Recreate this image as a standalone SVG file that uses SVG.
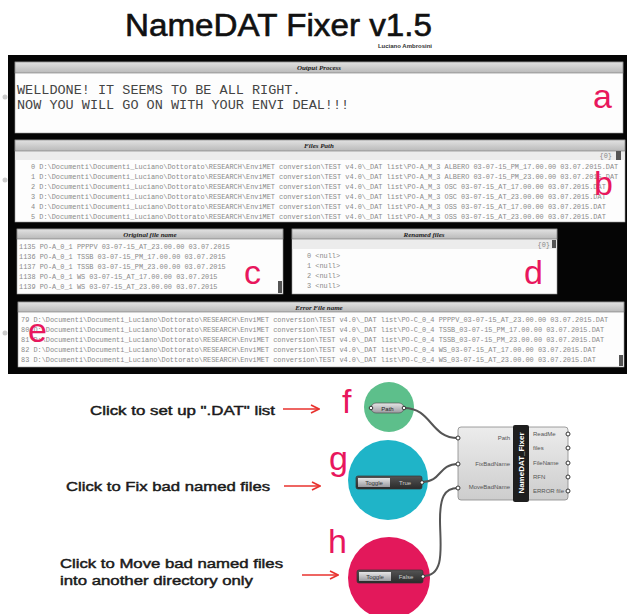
<svg xmlns="http://www.w3.org/2000/svg" width="630" height="614" viewBox="0 0 630 614">
<defs>
<linearGradient id="hdr" x1="0" y1="0" x2="0" y2="1"><stop offset="0" stop-color="#e2e2e2"/><stop offset="1" stop-color="#b9b9b9"/></linearGradient>
<linearGradient id="body" x1="0" y1="0" x2="0" y2="1"><stop offset="0" stop-color="#ececec"/><stop offset="1" stop-color="#cdcdcd"/></linearGradient>
<linearGradient id="pill" x1="0" y1="0" x2="0" y2="1"><stop offset="0" stop-color="#e6e6e6"/><stop offset="1" stop-color="#9a9aa0"/></linearGradient>
<linearGradient id="dark" x1="0" y1="0" x2="0" y2="1"><stop offset="0" stop-color="#555"/><stop offset="1" stop-color="#2a2a2a"/></linearGradient>
<marker id="arr" markerWidth="10" markerHeight="10" refX="9" refY="5" orient="auto" markerUnits="userSpaceOnUse"><path d="M1,1 L9,5 L1,9" fill="none" stroke="#e8322e" stroke-width="1.6"/></marker>
</defs>
<style>
.hd{font-family:"Liberation Serif",serif;font-style:italic;font-weight:bold;font-size:7px;fill:#222;text-anchor:middle}
.mono{font-family:"Liberation Mono",monospace;font-size:6.9px;fill:#8a8a8a}
.out{font-family:"Liberation Mono",monospace;font-size:13.5px;fill:#444}
.pl{font-family:"Liberation Sans",Arial,sans-serif;font-size:34px;fill:#e8175d}
.lab{font-family:"Liberation Sans",Arial,sans-serif;font-size:13px;fill:#1a1a1a;stroke:#1a1a1a;stroke-width:0.45}
.port{font-family:"Liberation Sans",Arial,sans-serif;font-size:6px;fill:#555}
.grip{fill:#fff;stroke:#333;stroke-width:1}
.wire{fill:none;stroke:#555;stroke-width:2}
.ra{fill:none;stroke:#e8322e;stroke-width:1.6}
.phd{fill:url(#hdr);stroke:#777;stroke-width:0.6}
.pbody{fill:#fdfdfd;stroke:#999;stroke-width:0.6}
.sub{fill:#ececec}
.thumb{fill:#555}
</style>
<rect width="630" height="614" fill="#fff"/>
<g id="title">
<text x="125" y="36" font-family="Liberation Sans,Arial,sans-serif" font-size="31" fill="#111" stroke="#111" stroke-width="0.6" textLength="307" lengthAdjust="spacingAndGlyphs">NameDAT Fixer v1.5</text>
<text x="432" y="47.5" font-family="Liberation Sans,Arial,sans-serif" font-size="6" font-weight="bold" fill="#333" text-anchor="end">Luciano Ambrosini</text>
</g>
<rect id="screen" x="8" y="55" width="619" height="319" fill="#050505"/>
<g id="side-grips" fill="#ccc">
<circle cx="5" cy="97" r="2.5"/><circle cx="5" cy="180" r="2.5"/><circle cx="5" cy="333" r="2.5"/>
</g>
<g id="panel-a">
<rect class="pbody" x="15" y="62" width="608" height="71"/>
<rect class="phd" x="15" y="62" width="608" height="11"/>
<text class="hd" x="319" y="70">Output Process</text>
<text class="out" x="17" y="94">WELLDONE! IT SEEMS TO BE ALL RIGHT.</text>
<text class="out" x="17" y="109">NOW YOU WILL GO ON WITH YOUR ENVI DEAL!!!</text>
<text class="pl" x="593" y="108">a</text>
</g>
<g id="panel-b">
<rect class="pbody" x="15" y="140" width="610" height="82"/>
<rect class="sub" x="15.5" y="151" width="609" height="9"/>
<rect class="phd" x="15" y="140" width="610" height="11"/>
<text class="hd" x="319" y="148">Files Path</text>
<text class="mono" x="612" y="158" text-anchor="end" font-size="6">{0}</text>
<rect class="thumb" x="616" y="151" width="5" height="9"/>
<text class="mono" x="31" y="169">0 D:\Documenti\Documenti_Luciano\Dottorato\RESEARCH\EnviMET conversion\TEST v4.0\_DAT list\PO-A_M_3 ALBERO 03-07-15_PM_17.00.00 03.07.2015.DAT</text>
<text class="mono" x="31" y="179">1 D:\Documenti\Documenti_Luciano\Dottorato\RESEARCH\EnviMET conversion\TEST v4.0\_DAT list\PO-A_M_3 ALBERO 03-07-15_PM_23.00.00 03.07.2015.DAT</text>
<text class="mono" x="31" y="189">2 D:\Documenti\Documenti_Luciano\Dottorato\RESEARCH\EnviMET conversion\TEST v4.0\_DAT list\PO-A_M_3 OSC 03-07-15_AT_17.00.00 03.07.2015.DAT</text>
<text class="mono" x="31" y="199">3 D:\Documenti\Documenti_Luciano\Dottorato\RESEARCH\EnviMET conversion\TEST v4.0\_DAT list\PO-A_M_3 OSC 03-07-15_AT_23.00.00 03.07.2015.DAT</text>
<text class="mono" x="31" y="209">4 D:\Documenti\Documenti_Luciano\Dottorato\RESEARCH\EnviMET conversion\TEST v4.0\_DAT list\PO-A_M_3 OSS 03-07-15_AT_17.00.00 03.07.2015.DAT</text>
<text class="mono" x="31" y="219">5 D:\Documenti\Documenti_Luciano\Dottorato\RESEARCH\EnviMET conversion\TEST v4.0\_DAT list\PO-A_M_3 OSS 03-07-15_AT_23.00.00 03.07.2015.DAT</text>
<text class="pl" x="594" y="195">b</text>
</g>
<g id="panel-c">
<rect class="pbody" x="17" y="229" width="266" height="65"/>
<rect class="phd" x="17" y="229" width="266" height="10"/>
<text class="hd" x="150" y="236.5">Original file name</text>
<text class="mono" x="19" y="249">1135 PO-A_0_1 PPPPV 03-07-15_AT_23.00.00 03.07.2015</text>
<text class="mono" x="19" y="259">1136 PO-A_0_1 TSSB 03-07-15_PM_17.00.00 03.07.2015</text>
<text class="mono" x="19" y="269">1137 PO-A_0_1 TSSB 03-07-15_PM_23.00.00 03.07.2015</text>
<text class="mono" x="19" y="279">1138 PO-A_0_1 WS 03-07-15_AT_17.00.00 03.07.2015</text>
<text class="mono" x="19" y="289">1139 PO-A_0_1 WS 03-07-15_AT_23.00.00 03.07.2015</text>
<rect class="thumb" x="278" y="281" width="4" height="12"/>
<text class="pl" x="244" y="284">c</text>
</g>
<g id="panel-d">
<rect class="pbody" x="292" y="229" width="265" height="65"/>
<rect class="sub" x="292.5" y="239" width="264" height="10"/>
<rect class="phd" x="292" y="229" width="265" height="10"/>
<text class="hd" x="424" y="236.5">Renamed files</text>
<text class="mono" x="550" y="247" text-anchor="end" font-size="6">{0}</text>
<rect class="thumb" x="552" y="240" width="4" height="8"/>
<text class="mono" x="307" y="258">0 &lt;null&gt;</text>
<text class="mono" x="307" y="268">1 &lt;null&gt;</text>
<text class="mono" x="307" y="278">2 &lt;null&gt;</text>
<text class="mono" x="307" y="288">3 &lt;null&gt;</text>
<text class="pl" x="524" y="284">d</text>
</g>
<g id="panel-e">
<rect class="pbody" x="18" y="302" width="606" height="65"/>
<rect class="phd" x="18" y="302" width="606" height="10"/>
<text class="hd" x="319" y="309.5">Error File  name</text>
<text class="mono" x="21" y="322">79 D:\Documenti\Documenti_Luciano\Dottorato\RESEARCH\EnviMET conversion\TEST v4.0\_DAT list\PO-C_0_4 PPPPV_03-07-15_AT_23.00.00 03.07.2015.DAT</text>
<text class="mono" x="21" y="332">80 D:\Documenti\Documenti_Luciano\Dottorato\RESEARCH\EnviMET conversion\TEST v4.0\_DAT list\PO-C_0_4 TSSB_03-07-15_PM_17.00.00 03.07.2015.DAT</text>
<text class="mono" x="21" y="342">81 D:\Documenti\Documenti_Luciano\Dottorato\RESEARCH\EnviMET conversion\TEST v4.0\_DAT list\PO-C_0_4 TSSB_03-07-15_PM_23.00.00 03.07.2015.DAT</text>
<text class="mono" x="21" y="352">82 D:\Documenti\Documenti_Luciano\Dottorato\RESEARCH\EnviMET conversion\TEST v4.0\_DAT list\PO-C_0_4 WS_03-07-15_AT_17.00.00 03.07.2015.DAT</text>
<text class="mono" x="21" y="362">83 D:\Documenti\Documenti_Luciano\Dottorato\RESEARCH\EnviMET conversion\TEST v4.0\_DAT list\PO-C_0_4 WS_03-07-15_AT_23.00.00 03.07.2015.DAT</text>
<rect class="thumb" x="619" y="355" width="4" height="11"/>
<text class="pl" x="28" y="342">e</text>
</g>
<g id="instructions">
<text class="lab" x="90" y="415" textLength="185" lengthAdjust="spacingAndGlyphs">Click to set up ".DAT" list</text>
<line class="ra" x1="283" y1="409" x2="319" y2="409" marker-end="url(#arr)"/>
<text class="lab" x="66" y="491" textLength="204" lengthAdjust="spacingAndGlyphs">Click to Fix bad named files</text>
<line class="ra" x1="284" y1="486" x2="320" y2="486" marker-end="url(#arr)"/>
<text class="lab" x="60" y="568" textLength="223" lengthAdjust="spacingAndGlyphs">Click to Move bad named files</text>
<text class="lab" x="60" y="585" textLength="193" lengthAdjust="spacingAndGlyphs">into another directory only</text>
<line class="ra" x1="302" y1="575" x2="338" y2="575" marker-end="url(#arr)"/>
</g>
<g id="circles">
<circle cx="389" cy="407" r="25" fill="#5dbf8b"/>
<circle cx="388" cy="480" r="40" fill="#1fb4c8"/>
<circle cx="389" cy="578" r="41" fill="#e3185b"/>
<text class="pl" x="342" y="413" font-size="32">f</text>
<text class="pl" x="329" y="470" font-size="32">g</text>
<text class="pl" x="328" y="553" font-size="32">h</text>
</g>
<g id="connectors">
<path class="wire" d="M404,408 C432,408 430,438 458,438"/>
<path class="wire" d="M422,482 C442,482 438,464 458,464"/>
<path class="wire" d="M423,576 C446,576 440,545 440,520 C440,498 444,488 458,488"/>
</g>
<g id="node-path">
<rect x="371" y="403" width="33" height="10" rx="5" fill="url(#pill)" stroke="#555" stroke-width="0.7"/>
<text x="387.5" y="410.5" font-family="Liberation Sans,Arial,sans-serif" font-size="6" fill="#222" text-anchor="middle">Path</text>
<circle class="grip" cx="371" cy="408" r="1.8"/>
<circle class="grip" cx="404" cy="408" r="1.8"/>
</g>
<g id="node-toggle-fix">
<rect x="356" y="476" width="66" height="13" rx="2" fill="url(#dark)" stroke="#333" stroke-width="0.7"/>
<rect x="358" y="478" width="32" height="9" fill="url(#pill)"/>
<text x="374" y="485" font-family="Liberation Sans,Arial,sans-serif" font-size="6" fill="#333" text-anchor="middle">Toggle</text>
<text x="405" y="485" font-family="Liberation Sans,Arial,sans-serif" font-size="6" fill="#ccc" text-anchor="middle">True</text>
<circle class="grip" cx="422" cy="482.5" r="1.8"/>
</g>
<g id="node-toggle-move">
<rect x="357" y="570" width="66" height="13" rx="2" fill="url(#dark)" stroke="#333" stroke-width="0.7"/>
<rect x="359" y="572" width="32" height="9" fill="url(#pill)"/>
<text x="375" y="579" font-family="Liberation Sans,Arial,sans-serif" font-size="6" fill="#333" text-anchor="middle">Toggle</text>
<text x="406" y="579" font-family="Liberation Sans,Arial,sans-serif" font-size="6" fill="#ccc" text-anchor="middle">False</text>
<circle class="grip" cx="423" cy="576.5" r="1.8"/>
</g>
<g id="node-namedat-fixer">
<rect x="458" y="427" width="110" height="73" rx="3" fill="url(#body)" stroke="#888" stroke-width="0.8"/>
<rect x="513" y="425" width="16" height="77" rx="2" fill="#1e1e1e"/>
<text transform="translate(524,463) rotate(-90)" font-family="Liberation Sans,Arial,sans-serif" font-size="8" font-weight="bold" fill="#fff" text-anchor="middle">NameDAT_Fixer</text>
<text class="port" x="510" y="440" text-anchor="end">Path</text>
<text class="port" x="510" y="466" text-anchor="end">FixBadName</text>
<text class="port" x="510" y="489" text-anchor="end">MoveBadName</text>
<text class="port" x="533" y="436">ReadMe</text>
<text class="port" x="533" y="450">files</text>
<text class="port" x="533" y="465">FileName</text>
<text class="port" x="533" y="479">RFN</text>
<text class="port" x="533" y="493">ERROR file</text>
<circle class="grip" cx="458" cy="438" r="2"/>
<circle class="grip" cx="458" cy="464" r="2"/>
<circle class="grip" cx="458" cy="488" r="2"/>
<circle class="grip" cx="568" cy="434" r="2"/>
<circle class="grip" cx="568" cy="448" r="2"/>
<circle class="grip" cx="568" cy="463" r="2"/>
<circle class="grip" cx="568" cy="477" r="2"/>
<circle class="grip" cx="568" cy="491" r="2"/>
</g>
</svg>
